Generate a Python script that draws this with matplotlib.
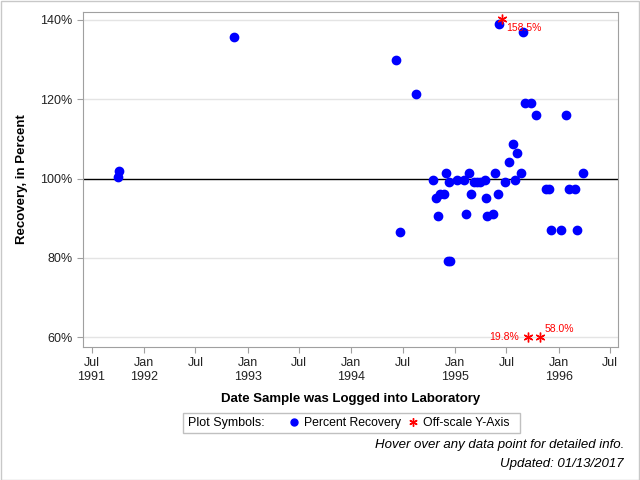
import matplotlib
matplotlib.use("Agg")
import matplotlib.pyplot as plt
from matplotlib.lines import Line2D
from matplotlib.patches import Rectangle
import numpy as np

plt.rcParams['font.family'] = ['Liberation Sans', 'DejaVu Sans']

# logged dates and percent recovery
dates = np.array([
    '1991-10-03', '1991-10-06', '1992-11-14', '1994-06-06', '1994-06-21',
    '1994-08-16', '1994-10-15', '1994-10-25', '1994-11-02', '1994-11-10',
    '1994-11-23', '1994-11-30', '1994-12-06', '1994-12-10', '1994-12-16',
    '1995-01-07', '1995-02-01', '1995-02-08', '1995-02-19', '1995-02-26',
    '1995-03-09', '1995-03-19', '1995-03-30', '1995-04-17', '1995-04-20',
    '1995-04-24', '1995-05-15', '1995-05-22', '1995-06-01', '1995-06-05',
    '1995-06-26', '1995-07-10', '1995-07-24', '1995-07-31', '1995-08-07',
    '1995-08-21', '1995-08-28', '1995-09-04', '1995-09-25', '1995-10-13',
    '1995-11-17', '1995-11-28', '1995-12-05', '1996-01-08', '1996-01-28',
    '1996-02-05', '1996-02-26', '1996-03-04', '1996-03-25',
], dtype='datetime64[D]')
recovery = [
    100.4, 102.0, 135.6, 129.8, 86.6,
    121.3, 99.7, 95.1, 90.6, 96.2,
    96.2, 101.4, 79.3, 99.2, 79.3,
    99.7, 99.7, 91.1, 101.4, 96.2,
    99.2, 99.2, 99.2, 99.7, 95.1,
    90.6, 91.1, 101.4, 96.2, 138.9,
    99.2, 104.2, 108.7, 99.7, 106.5,
    101.4, 136.9, 119.0, 119.0, 116.0,
    97.4, 97.4, 87.1, 87.1, 116.0,
    97.4, 97.4, 87.1, 101.4,
]

# off-scale values (drawn at the axis limit)
off_dates = np.array(['1995-06-14', '1995-09-16', '1995-10-29'], dtype='datetime64[D]')
off_values = [158.5, 19.8, 58.0]
off_plot_y = [140.2, 60.0, 60.0]

tick_dates = np.array(['1991-07-01', '1992-01-01', '1992-07-01', '1993-01-01',
                       '1993-07-01', '1994-01-01', '1994-07-01', '1995-01-01',
                       '1995-07-01', '1996-01-01', '1996-07-01'], dtype='datetime64[D]')
tick_labels = ['Jul\n1991', 'Jan\n1992', 'Jul', 'Jan\n1993', 'Jul', 'Jan\n1994',
               'Jul', 'Jan\n1995', 'Jul', 'Jan\n1996', 'Jul']

star = (6, 2, 0)

fig = plt.figure(figsize=(6.4, 4.8), dpi=100)
ax = fig.add_axes([83/640, 1-347/480, (618-83)/640, (347-12)/480])

for y in [60, 80, 120, 140]:
    ax.axhline(y, color='#e4e4e4', lw=1, zorder=0)
ax.axhline(100, color='black', lw=1, zorder=1)

ax.plot(dates, recovery, 'o', color='blue', ms=6, mec='blue', zorder=3)
ax.plot(off_dates, off_plot_y, marker=star, ls='none', color='red', ms=7, mew=1, zorder=3)

ax.annotate(f'{off_values[0]:.1f}%', (off_dates[0], off_plot_y[0]), xytext=(3, -7),
            textcoords='offset points', color='red', fontsize=7.5, va='center', ha='left')
ax.annotate(f'{off_values[1]:.1f}%', (off_dates[1], off_plot_y[1]), xytext=(-7, 0),
            textcoords='offset points', color='red', fontsize=7.5, va='center', ha='right')
ax.annotate(f'{off_values[2]:.1f}%', (off_dates[2], off_plot_y[2]), xytext=(3, 6),
            textcoords='offset points', color='red', fontsize=7.5, va='center', ha='left')

ax.set_xlim(np.datetime64('1991-06-01'), np.datetime64('1996-07-28'))
ax.set_ylim(57.6, 141.9)
ax.set_xticks(tick_dates)
ax.set_xticklabels(tick_labels)
ax.set_yticks([60, 80, 100, 120, 140])
ax.set_yticklabels(['60%', '80%', '100%', '120%', '140%'])
ax.tick_params(colors='#a0a0a0', labelcolor='#222222', labelsize=9, length=4)
for s in ax.spines.values():
    s.set_color('#a0a0a0')

ax.set_ylabel('Recovery, in Percent', fontsize=9.5, fontweight='bold', labelpad=9)
ax.set_xlabel('Date Sample was Logged into Laboratory', fontsize=9.5,
              fontweight='bold', labelpad=7)

# legend box
fig.patches.append(Rectangle((183/640, 1-433/480), 337/640, 20/480,
                             transform=fig.transFigure, fill=False,
                             edgecolor='#c0c0c0', lw=1))
fig.text(188/640, 1-423/480, 'Plot Symbols:', fontsize=9, va='center')
handles = [Line2D([], [], marker='o', ls='none', color='blue', ms=5),
           Line2D([], [], marker=star, ls='none', color='red', ms=6, mew=1)]
fig.legend(handles, ['Percent Recovery', 'Off-scale Y-Axis'], ncol=2,
           loc='center left', bbox_to_anchor=(288/640, 1-423/480), frameon=False,
           fontsize=8.8, handlelength=1.0, handletextpad=0.3, columnspacing=0.5,
           borderpad=0, borderaxespad=0)

fig.text(624/640, 1-445/480, 'Hover over any data point for detailed info.',
         fontsize=9.5, style='italic', ha='right', va='center')
fig.text(624/640, 1-464/480, 'Updated: 01/13/2017',
         fontsize=9.5, style='italic', ha='right', va='center')

fig.patches.append(Rectangle((0.5/640, 0.5/480), 638.5/640, 478.5/480,
                             transform=fig.transFigure, fill=False,
                             edgecolor='#c8c8c8', lw=1))

fig.savefig('out.png', dpi=100)
